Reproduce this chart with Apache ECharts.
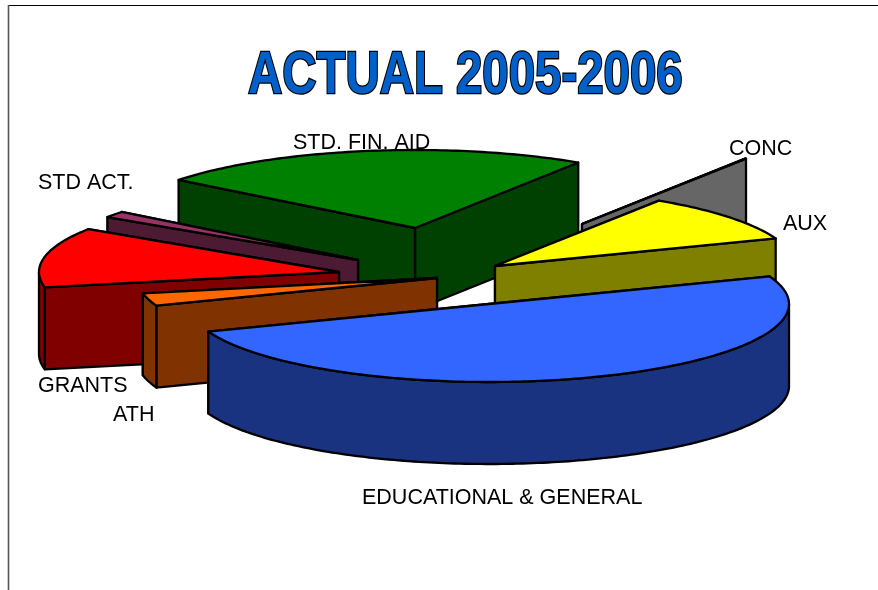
<!DOCTYPE html>
<html>
<head>
<meta charset="utf-8">
<style>
  html, body { margin: 0; padding: 0; background: #fff; }
  #chart { width: 878px; height: 590px; }
</style>
<script src="https://cdn.jsdelivr.net/npm/echarts@6/dist/echarts.min.js"></script>
</head>
<body>
<div id="chart"></div>
<script>
// slices in pie order, clockwise from the left edge of STD. FIN. AID
const categories = ['STD. FIN. AID', 'CONC', 'AUX', 'EDUCATIONAL & GENERAL', 'ATH', 'GRANTS', 'STD ACT.'];
const shares = [23.6, 0.05, 10.05, 50, 2.6, 12.4, 1.3]; // percent

// look of each slice
const topColors = ['#008000', '#666666', '#ffff00', '#3366ff', '#ff6600', '#ff0000', '#993366'];
const wallColors = ['#004000', '#666666', '#808000', '#1a3380', '#803300', '#800000', '#4d1a33'];
// where each exploded slice has its tip
const tipX = [415, 582, 495, 489, 437, 339, 358];
const tipY = [228, 224, 266, 304, 278, 272, 260];
// back to front
const paintOrder = [0, 1, 2, 6, 5, 4, 3];

const labelX = [293, 729, 783, 362, 113, 38, 38];
const labelY = [143, 149, 224, 498, 415, 386, 183];

const START_ANGLE = 142;
const RX = 300, RY = 78, DEPTH = 82;

const point = (i, deg, drop) => [
  tipX[i] + RX * Math.cos(deg * Math.PI / 180),
  tipY[i] - RY * Math.sin(deg * Math.PI / 180) + (drop || 0)
];

// angles run clockwise so they go down from START_ANGLE
let run = START_ANGLE;
const sliceAngles = shares.map(s => {
  const from = run;
  run -= s * 3.6;
  return [from, run];
});

const arcPoints = (i, from, to, drop) => {
  const pts = [];
  const steps = Math.max(2, Math.ceil(Math.abs(from - to)));
  for (let k = 0; k <= steps; k++) pts.push(point(i, from + (to - from) * k / steps, drop));
  return pts;
};

function renderSlice(params) {
  const i = paintOrder[params.dataIndex];
  const [from, to] = sliceAngles[i];
  const line = { stroke: '#000', lineWidth: 2.3, lineJoin: 'round' };
  const wall = pts => ({
    type: 'polygon',
    shape: { points: pts },
    style: Object.assign({ fill: wallColors[i] }, line)
  });
  const tip = [tipX[i], tipY[i]];
  const tipLow = [tipX[i], tipY[i] + DEPTH];

  // flat cut faces, the one further back first
  const edges = [from, to].sort((a, b) => point(i, a)[1] - point(i, b)[1]);
  const children = edges.map(a => wall([tip, point(i, a), point(i, a, DEPTH), tipLow]));

  // the rim only shows on the front half of the ellipse: -180..0 and the same +360
  [[-180, 0], [180, 360]].forEach(([lo, hi]) => {
    const a = Math.min(from, hi), b = Math.max(to, lo);
    if (a > b) children.push(wall(arcPoints(i, a, b, 0).concat(arcPoints(i, b, a, DEPTH))));
  });

  children.push({
    type: 'polygon',
    shape: { points: [tip].concat(arcPoints(i, from, to, 0)) },
    style: Object.assign({ fill: topColors[i] }, line)
  });
  return { type: 'group', children };
}

const labels = categories.map((name, i) => ({
  type: 'text',
  x: labelX[i],
  y: labelY[i],
  z: 1,
  style: { text: name, fill: '#000', font: '21.5px "Liberation Sans", Arial, sans-serif', align: 'left', verticalAlign: 'middle' }
}));

const chart = echarts.init(document.getElementById('chart'), null, { renderer: 'canvas' });
chart.setOption({
  animation: false,
  graphic: labels.concat([
    {
      type: 'line',
      z: 1,
      shape: { x1: 8, y1: 5.5, x2: 878, y2: 5.5 },
      style: { stroke: '#000', lineWidth: 1 }
    },
    {
      type: 'line',
      z: 1,
      shape: { x1: 8.5, y1: 5, x2: 8.5, y2: 590 },
      style: { stroke: '#555', lineWidth: 1.6 }
    },
    {
      type: 'text',
      x: 248,
      y: 76,
      scaleX: 0.79,
      z: 10,
      style: {
        text: 'ACTUAL 2005-2006',
        font: 'bold 60px "Liberation Sans", Arial, sans-serif',
        fill: '#0060c8',
        stroke: '#000',
        lineWidth: 2.6,
        align: 'left',
        verticalAlign: 'middle'
      }
    }
  ]),
  series: [{
    type: 'custom',
    coordinateSystem: 'none',
    silent: true,
    z: 2,
    renderItem: renderSlice,
    data: paintOrder.map(i => ({ name: categories[i], value: shares[i] }))
  }]
});
</script>
</body>
</html>
